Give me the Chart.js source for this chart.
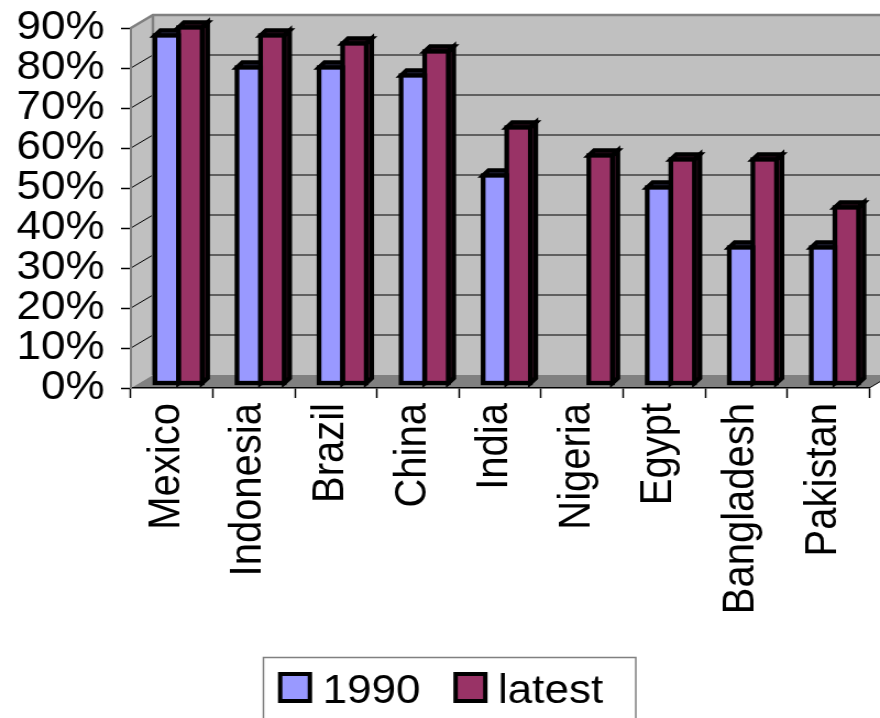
<!DOCTYPE html>
<html>
<head>
<meta charset="utf-8">
<script src="https://cdn.jsdelivr.net/npm/chart.js@4/dist/chart.umd.min.js"></script>
<style>
  html, body { margin: 0; padding: 0; background: #fff; overflow: hidden; }
  #wrap { width: 800px; height: 718px; transform: scaleX(1.1); transform-origin: 0 0; }
  canvas { display: block; }
</style>
</head>
<body>
<div id="wrap"><canvas id="c" width="800" height="718"></canvas></div>
<script>
// Literacy rate by country, 1990 vs latest year
const countries = ['Mexico', 'Indonesia', 'Brazil', 'China', 'India', 'Nigeria', 'Egypt', 'Bangladesh', 'Pakistan'];
const rate1990 = [87, 79, 79, 77, 52, null, 49, 34, 34];
const rateLatest = [89, 87, 85, 83, 64, 57, 56, 56, 44];
const seriesNames = ['1990', 'latest'];
const yTickValues = [0, 10, 20, 30, 40, 50, 60, 70, 80, 90];

const FONT = '"Liberation Sans", Arial, Helvetica, sans-serif';
const FONT_SIZE = 40;
const WALL = { dx: 20, dy: -13 };        // depth of the walls and floor
const BAR_SHIFT = { dx: 6, dy: -4.5 };  // bars stand a little behind the front edge
const BAR_DEPTH = { dx: 5, dy: -5 };    // thickness of each bar
const OUTLINE = 4.3;
const FACE = [
  { fill: '#9999ff', side: '#4d4d80', top: '#5c5c99' },
  { fill: '#993366', side: '#4d1a33', top: '#5c1f3d' }
];

// Back wall, side wall, floor and gridlines behind the bars
const walls = {
  id: 'walls',
  beforeDraw(chart) {
    const { ctx, chartArea: a, scales: { y } } = chart;
    const L = a.left, R = a.right, T = a.top, B = a.bottom, dx = WALL.dx, dy = WALL.dy;
    ctx.save();
    ctx.fillStyle = '#c0c0c0';
    ctx.fillRect(L + dx, T + dy, R - L + 20, B - T);
    ctx.beginPath();
    ctx.moveTo(L, B); ctx.lineTo(L, T); ctx.lineTo(L + dx, T + dy); ctx.lineTo(L + dx, B + dy);
    ctx.closePath(); ctx.fill();
    ctx.fillStyle = '#808080';
    ctx.beginPath();
    ctx.moveTo(L, B); ctx.lineTo(R, B); ctx.lineTo(R + dx, B + dy); ctx.lineTo(L + dx, B + dy);
    ctx.closePath(); ctx.fill();

    ctx.strokeStyle = '#000';
    ctx.lineWidth = 1;
    y.ticks.forEach(t => {
      if (t.value === 0) return;
      const py = y.getPixelForValue(t.value);
      ctx.beginPath();
      ctx.moveTo(L, py); ctx.lineTo(L + dx, py + dy); ctx.lineTo(R + dx + 20, py + dy);
      ctx.stroke();
    });

    ctx.strokeStyle = '#808080';
    ctx.lineWidth = 2.5;
    ctx.beginPath();
    ctx.moveTo(L, T); ctx.lineTo(L + dx, T + dy); ctx.lineTo(R + dx + 20, T + dy);
    ctx.moveTo(L + dx, T + dy); ctx.lineTo(L + dx, B + dy);
    ctx.stroke();

    ctx.strokeStyle = '#000';
    ctx.lineWidth = 1;
    ctx.beginPath();
    ctx.moveTo(R, B); ctx.lineTo(R + dx, B + dy);
    ctx.stroke();
    ctx.restore();
  }
};

// Tops and sides of the bars, plus the black outlines of their fronts
function eachBar(chart, fn) {
  chart.data.datasets.forEach((ds, i) => {
    chart.getDatasetMeta(i).data.forEach((el, j) => {
      if (ds.data[j] == null) return;
      const { x, y, base, width } = el.getProps(['x', 'y', 'base', 'width'], true);
      fn(i, x - width / 2, x + width / 2, y, base);
    });
  });
}

const bars3d = {
  id: 'bars3d',
  beforeDatasetsDraw(chart) {
    const ctx = chart.ctx;
    ctx.save();
    ctx.translate(BAR_SHIFT.dx, BAR_SHIFT.dy);
    ctx.lineWidth = OUTLINE;
    ctx.strokeStyle = '#000';
    ctx.lineJoin = 'miter';
    const dx = BAR_DEPTH.dx, dy = BAR_DEPTH.dy;
    eachBar(chart, (i, l, r, top, base) => {
      ctx.fillStyle = FACE[i].side;
      ctx.beginPath();
      ctx.moveTo(r, top); ctx.lineTo(r + dx, top + dy); ctx.lineTo(r + dx, base + dy); ctx.lineTo(r, base);
      ctx.closePath(); ctx.fill(); ctx.stroke();
      ctx.fillStyle = FACE[i].top;
      ctx.beginPath();
      ctx.moveTo(l, top); ctx.lineTo(l + dx, top + dy); ctx.lineTo(r + dx, top + dy); ctx.lineTo(r, top);
      ctx.closePath(); ctx.fill(); ctx.stroke();
    });
  },
  afterDatasetsDraw(chart) {
    const ctx = chart.ctx;
    ctx.lineWidth = OUTLINE;
    ctx.strokeStyle = '#000';
    eachBar(chart, (i, l, r, top, base) => {
      ctx.strokeRect(l, top, r - l, base - top);
    });
    ctx.restore();
  }
};

// Boxed legend under the category labels
const legendBox = {
  id: 'legendBox',
  afterDraw(chart) {
    const ctx = chart.ctx;
    ctx.save();
    ctx.strokeStyle = '#808080';
    ctx.lineWidth = 1.5;
    ctx.strokeRect(239.5, 657.5, 338.5, 80);
    ctx.font = FONT_SIZE + 'px ' + FONT;
    ctx.textBaseline = 'alphabetic';
    let x = 254.7;
    chart.data.datasets.forEach((ds, i) => {
      ctx.fillStyle = ds.backgroundColor;
      ctx.fillRect(x, 674, 27, 27);
      ctx.lineWidth = 4;
      ctx.strokeStyle = '#000';
      ctx.strokeRect(x, 674, 27, 27);
      ctx.fillStyle = '#000';
      const tx = x + 38.5;
      ctx.fillText(ds.label, tx, 703);
      x = tx + ctx.measureText(ds.label).width + 32;
    });
    ctx.restore();
  }
};

Chart.defaults.font.family = FONT;
Chart.defaults.font.size = FONT_SIZE;
Chart.defaults.color = '#000';

new Chart(document.getElementById('c'), {
  type: 'bar',
  data: {
    labels: countries,
    datasets: [
      { label: seriesNames[0], data: rate1990, backgroundColor: FACE[0].fill, borderWidth: 0 },
      { label: seriesNames[1], data: rateLatest, backgroundColor: FACE[1].fill, borderWidth: 0 }
    ]
  },
  options: {
    responsive: false,
    animation: false,
    devicePixelRatio: 1,
    layout: { padding: { left: 0, right: 9.7, top: 28, bottom: 0 } },
    datasets: { bar: { categoryPercentage: 0.575, barPercentage: 1.0 } },
    plugins: { legend: { display: false }, tooltip: { enabled: false } },
    scales: {
      x: {
        grid: { display: true, drawOnChartArea: false, offset: true, tickLength: 10, color: '#000', tickWidth: 1.5 },
        border: { display: true, color: '#000', width: 1.5 },
        ticks: { minRotation: 90, maxRotation: 90, autoSkip: false, padding: 5, labelOffset: -4.5 },
        afterFit(s) { s.height = 330; s.paddingLeft = 0; s.paddingRight = 0; }
      },
      y: {
        min: 0, max: 90,
        afterBuildTicks(s) { s.ticks = yTickValues.map(v => ({ value: v })); },
        grid: { display: true, drawOnChartArea: false, tickLength: 9, color: '#000', tickWidth: 1.5 },
        border: { display: true, color: '#808080', width: 2 },
        ticks: { padding: 15, autoSkip: false, callback: v => v + '%' },
        afterFit(s) { s.width = 119; s.paddingTop = 0; s.paddingBottom = 0; }
      }
    }
  },
  plugins: [walls, bars3d, legendBox]
});
</script>
</body>
</html>
